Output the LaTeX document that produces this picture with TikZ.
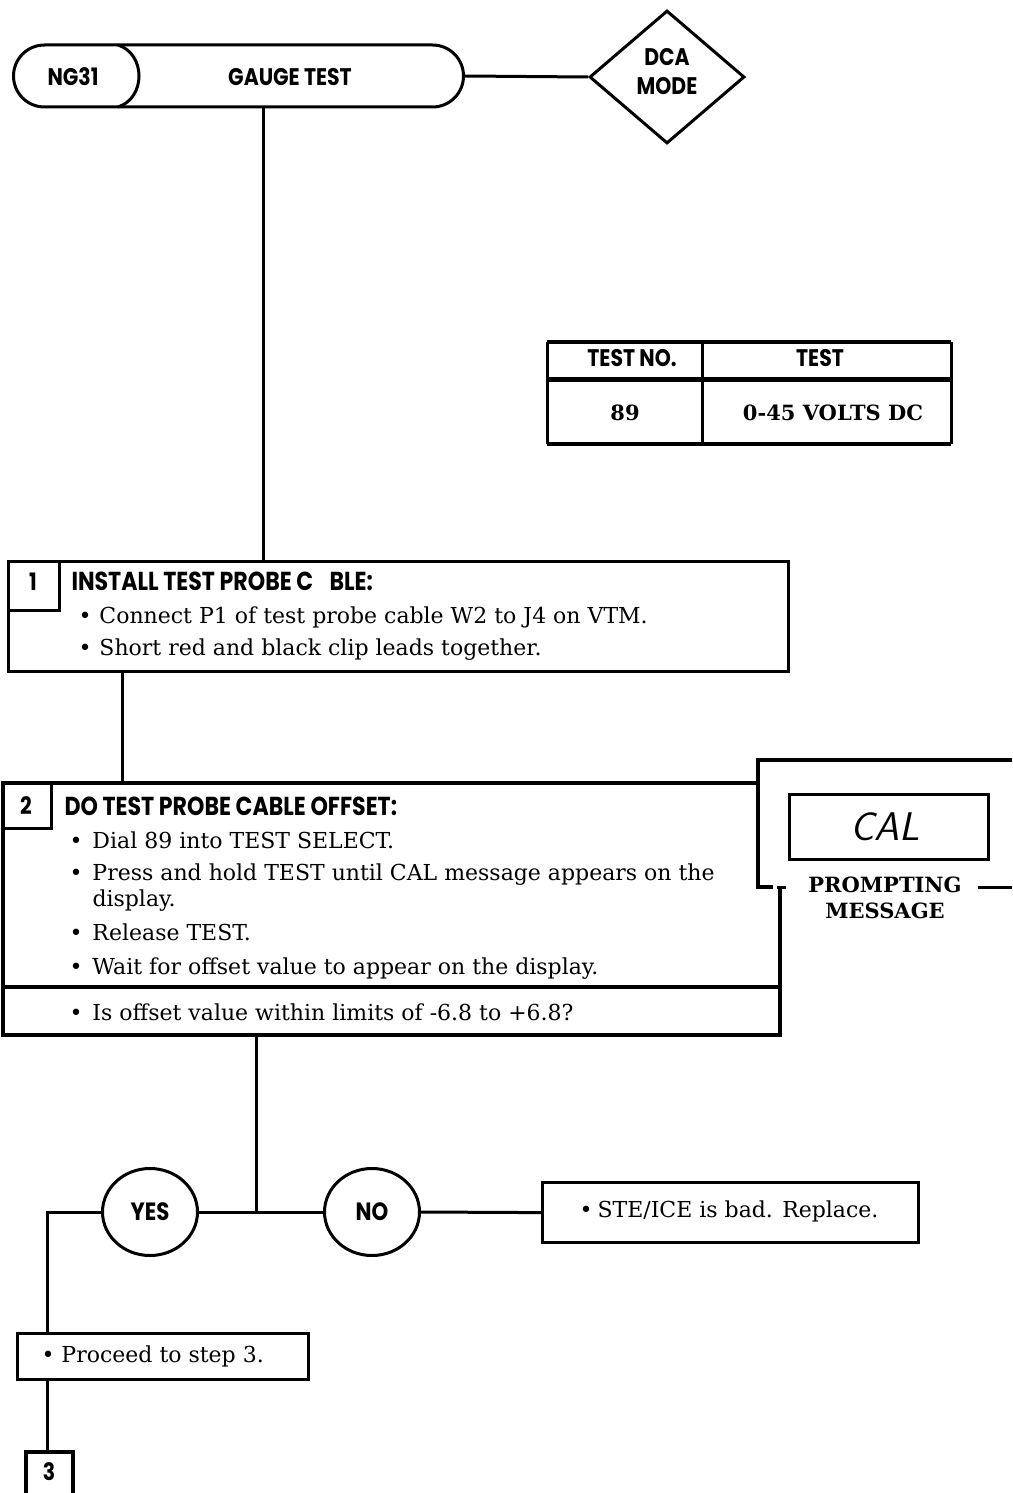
\documentclass[tikz,border=0pt]{standalone}
\usepackage{fontspec}
\setmainfont{DejaVu Serif}
\newfontfamily\hdfont{Poppins}[FakeStretch=0.85]
\usetikzlibrary{shapes.geometric,shapes.misc}
\newcommand{\mybul}[1][21pt]{\makebox[#1][l]{•}}
\begin{document}
\begin{tikzpicture}[x=1pt,y=-1pt,line width=3pt,
  boxn/.style={draw,rectangle,inner sep=0pt,anchor=north west,line width=3.2pt},
  plain/.style={inner sep=0pt,outer sep=0pt},
  hd/.style={inner sep=0pt,font=\hdfont\bfseries\fontsize{24}{29}\selectfont,align=center},
  ttl/.style={inner sep=0pt,anchor=base west,font=\hdfont\bfseries\fontsize{26}{28}\selectfont},
  body/.style={inner sep=0pt,anchor=base west,font=\fontsize{22}{26}\selectfont},
  bbold/.style={inner sep=0pt,font=\bfseries\fontsize{21}{24}\selectfont},
  circ/.style={ellipse,draw,line width=3pt,minimum width=95pt,minimum height=87pt,inner sep=0pt,font=\hdfont\bfseries\fontsize{25}{26}\selectfont}]
\fill[white] (0,0) rectangle (1012,1493);
\useasboundingbox (0,0) rectangle (1012,1493);

% terminal
\node[rounded rectangle,draw,line width=3pt,minimum width=450pt,minimum height=62pt,inner sep=0pt,anchor=west] (term) at (12,76) {};
\draw (118,45) .. controls (146,54) and (146,98) .. (118,107);
\node[hd] (ng) at (73,77) {NG31};
\node[hd] (gt) at (290,77) {GAUGE TEST};
\node[diamond,draw,line width=3pt,minimum width=155pt,minimum height=133pt,inner sep=0pt] (dca) at (667,77) {};
\node[hd] (dcat) at (667,72) {DCA\\MODE};
\draw (term.east) -- (dca.west);

% table
\node[plain,minimum width=404pt,minimum height=102pt,anchor=north west] (tbl) at (547,342) {};
\draw[line width=4pt] (tbl.north west) -- (tbl.north east);
\draw[line width=4pt] (tbl.south west) -- (tbl.south east);
\draw[line width=3pt] (tbl.north west) -- (tbl.south west);
\draw[line width=3pt] (tbl.north east) -- (tbl.south east);
\draw[line width=3pt] (702,342) -- (702,444);
\draw[line width=5pt] (547,379) -- (951,379);
\node[hd] (th1) at (632,358) {TEST NO.};
\node[hd] (th2) at (820,358) {TEST};
\node[bbold] (tv1) at (625,413) {89};
\node[bbold] (tv2) at (833,413) {0-45 VOLTS DC};

% step 1
\coordinate (j1) at (263,0);
\node[boxn,minimum width=780pt,minimum height=110pt] (s1) at (7,560) {};
\draw (59,560) -- (59,610) -- (7,610);
\node[hd] (n1) at (33,582) {1};
\node[ttl] (t1) at (70,590) {INSTALL TEST PROBE C\phantom{A}BLE:};
\node[body] (b11) at (77,623) {\mybul Connect P1 of test probe cable W2 to J4 on VTM.};
\node[body] (b12) at (77,655) {\mybul Short red and black clip leads together.};
\draw (term.south -| j1) -- (s1.north -| j1);

% step 2
\coordinate (j2) at (122,0);
\node[plain,minimum width=777pt,minimum height=252pt,anchor=north west] (s2) at (3,783) {};
\draw[line width=3.2pt] (758,783) -- (3,783) -- (3,1035) -- (780,1035) -- (780,888);
\draw[line width=3.5pt] (3,987) -- (780,987);
\draw (51,783) -- (51,828) -- (3,828);
\node[hd] (n2) at (26,806) {2};
\node[ttl] (t2) at (63,815) {DO TEST PROBE CABLE OFFSET:};
\node[body] (b21) at (68,848) {\mybul[23pt]Dial 89 into TEST SELECT.};
\node[body] (b22) at (68,880) {\mybul[23pt]Press and hold TEST until CAL message appears on the};
\node[body] (b22b) at (91,906) {display.};
\node[body] (b23) at (68,940) {\mybul[23pt]Release TEST.};
\node[body] (b24) at (68,974) {\mybul[23pt]Wait for offset value to appear on the display.};
\node[body] (b25) at (68,1020) {\mybul[23pt]Is offset value within limits of -6.8 to +6.8?};
\draw (s1.south -| j2) -- (s2.north -| j2);

% prompting message frame
\draw[line width=3.2pt] (1012,760) -- (758,760) -- (758,887) -- (773,887);
\draw (777,887) -- (786,887);
\draw (978,887) -- (1012,887);
\node[boxn,line width=3pt,minimum width=199pt,minimum height=65pt] (lcd) at (788,793) {};
\node[inner sep=0pt,font=\sffamily\slshape\fontsize{40}{40}\selectfont] (cal) at ([xshift=-4pt]lcd.center) {CAL};
\node[inner sep=0pt,align=center,font=\bfseries\fontsize{21}{26}\selectfont] (pm) at (885,898) {PROMPTING\\MESSAGE};

% decision
\coordinate (j3) at (256,1214);
\draw (s2.south -| j3) -- (j3);
\node[circ] (yes) at (150,1212) {YES};
\node[circ] (no) at (372,1212) {NO};
\node[boxn,minimum width=376pt,minimum height=60pt] (ste) at (541,1181) {};
\node[body,anchor=center] (stet) at (729,1211) {\mybul[18pt]STE/ICE is bad. Replace.};
\draw (yes.east) -- (no.west);
\draw (no.east) -- (ste.west);

% proceed
\coordinate (j4) at (47,0);
\node[boxn,minimum width=291pt,minimum height=46pt] (pr) at (16,1332) {};
\node[body] (prt) at (40,1362) {\mybul[20pt]Proceed to step 3.};
\draw (yes.west) -| (pr.north -| j4);
\node[plain,minimum width=47pt,minimum height=41pt,anchor=north west] (n3) at (26,1452) {};
\draw[line width=3.2pt] (n3.south west) -- (n3.north west) -- (n3.north east) -- (n3.south east);
\node[hd] (n3t) at (49,1472) {3};
\draw (pr.south -| j4) -- (n3.north -| j4);
\end{tikzpicture}
\end{document}
